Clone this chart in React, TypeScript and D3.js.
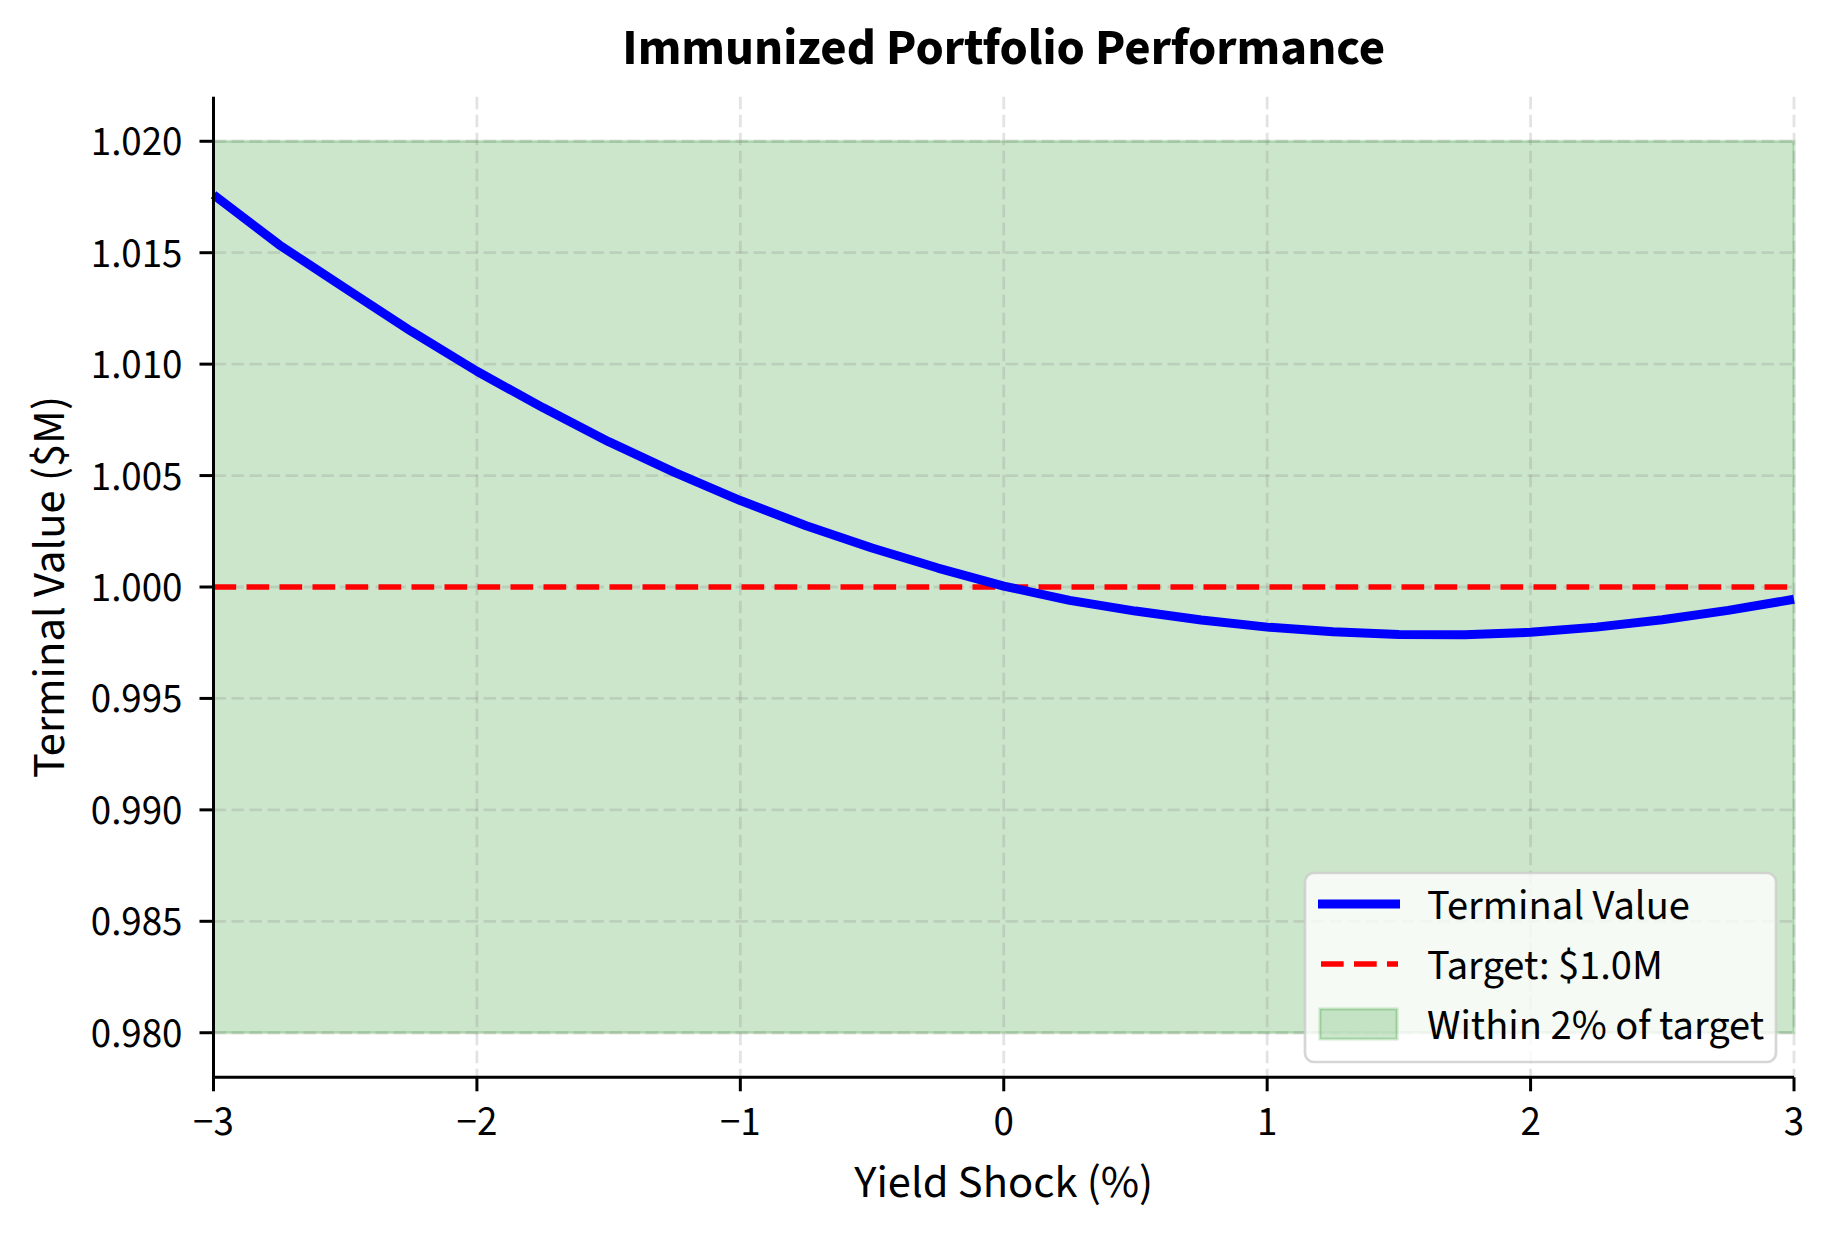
import { useMemo } from 'react'
import * as d3 from 'd3'

// yield shocks in percent at 0.25 steps
const shocks = [
  -3, -2.75, -2.5, -2.25, -2, -1.75, -1.5, -1.25, -1, -0.75, -0.5, -0.25, 0,
  0.25, 0.5, 0.75, 1, 1.25, 1.5, 1.75, 2, 2.25, 2.5, 2.75, 3,
]
const terminalValues = [
  1.0176, 1.01535, 1.0134, 1.01148, 1.00968, 1.00805, 1.00652, 1.00514, 1.00388,
  1.00275, 1.00175, 1.00085, 1.00004, 0.9994, 0.99892, 0.99852, 0.9982,
  0.99799, 0.99787, 0.99786, 0.99797, 0.9982, 0.99853, 0.99895, 0.99945,
]
const target = 1.0
const band = [0.98, 1.02]
const xTicks = [-3, -2, -1, 0, 1, 2, 3]
const yTicks = [0.98, 0.985, 0.99, 0.995, 1.0, 1.005, 1.01, 1.015, 1.02]
const legendItems = ['Terminal Value', 'Target: $1.0M', 'Within 2% of target']

const W = 1834
const H = 1234
const M = { left: 213.5, right: 1794, top: 96.7, bottom: 1077.3 }
const FONT = "'Source Sans 3', 'Source Sans Pro', Lato, sans-serif"

export default function App() {
  const x = useMemo(() => d3.scaleLinear().domain([-3, 3]).range([M.left, M.right]), [])
  const y = useMemo(() => d3.scaleLinear().domain([0.978, 1.022]).range([M.bottom, M.top]), [])

  const linePath = d3
    .line<number>()
    .x((_, i) => x(shocks[i]))
    .y((d) => y(d))(terminalValues)

  const fmtY = d3.format('.3f')
  const fmtX = (v: number) => (v < 0 ? '\u2212' + Math.abs(v) : String(v))

  const lx = 1305
  const ly = 873
  const lw = 471
  const lh = 189
  const rowY = [904, 964, 1024]

  return (
    <svg
      width={W}
      height={H}
      style={{ position: 'absolute', left: 0, top: 0, background: '#fff' }}
      fontFamily={FONT}
    >
      <rect width={W} height={H} fill="#fff" />

      {/* tolerance band */}
      <rect
        x={x(-3)}
        y={y(band[1])}
        width={x(3) - x(-3)}
        height={y(band[0]) - y(band[1])}
        fill="green"
        fillOpacity={0.2}
        stroke="green"
        strokeOpacity={0.2}
        strokeWidth={3}
      />

      {/* grid */}
      <g stroke="#808080" strokeOpacity={0.22} strokeWidth={2.8} strokeDasharray="12.5 5.5">
        {xTicks.map((t) => (
          <line key={'gx' + t} x1={x(t)} x2={x(t)} y1={M.top} y2={M.bottom} />
        ))}
        {yTicks.map((t) => (
          <line key={'gy' + t} x1={M.left} x2={M.right} y1={y(t)} y2={y(t)} />
        ))}
      </g>

      {/* target line */}
      <line
        x1={M.left}
        x2={M.right}
        y1={y(target)}
        y2={y(target)}
        stroke="#ff0000"
        strokeWidth={5.5}
        strokeDasharray="22.7 10.3"
      />

      {/* terminal value curve */}
      <path d={linePath ?? ''} fill="none" stroke="#0000ff" strokeWidth={9} strokeLinejoin="round" />

      {/* spines */}
      <line x1={M.left} x2={M.left} y1={M.top} y2={M.bottom + 1.5} stroke="#000" strokeWidth={3} />
      <line x1={M.left - 1.5} x2={M.right} y1={M.bottom} y2={M.bottom} stroke="#000" strokeWidth={3} />

      {/* y ticks */}
      {yTicks.map((t) => (
        <g key={'ty' + t}>
          <line x1={M.left - 14} x2={M.left} y1={y(t)} y2={y(t)} stroke="#000" strokeWidth={3} />
          <text x={M.left - 31} y={y(t) + 14} textAnchor="end" fontSize={41} fill="#000">
            {fmtY(t)}
          </text>
        </g>
      ))}

      {/* x ticks */}
      {xTicks.map((t) => (
        <g key={'tx' + t}>
          <line x1={x(t)} x2={x(t)} y1={M.bottom} y2={M.bottom + 14} stroke="#000" strokeWidth={3} />
          <text x={x(t)} y={1135} textAnchor="middle" fontSize={41} fill="#000">
            {fmtX(t)}
          </text>
        </g>
      ))}

      {/* labels */}
      <text x={(M.left + M.right) / 2} y={1197} textAnchor="middle" fontSize={46.5} fill="#000">
        Yield Shock (%)
      </text>
      <text
        transform={`translate(64,${(M.top + M.bottom) / 2}) rotate(-90)`}
        textAnchor="middle"
        fontSize={46.5}
        fill="#000"
      >
        Terminal Value ($M)
      </text>
      <text x={(M.left + M.right) / 2} y={64} textAnchor="middle" fontSize={51} fontWeight="bold" fill="#000">
        Immunized Portfolio Performance
      </text>

      {/* legend */}
      <g>
        <rect
          x={lx}
          y={ly}
          width={lw}
          height={lh}
          rx={9}
          fill="#fff"
          fillOpacity={0.8}
          stroke="#cccccc"
          strokeOpacity={0.8}
          strokeWidth={2.7}
        />
        <line x1={1318} x2={1400} y1={rowY[0]} y2={rowY[0]} stroke="#0000ff" strokeWidth={9} />
        <line
          x1={1321}
          x2={1398}
          y1={rowY[1]}
          y2={rowY[1]}
          stroke="#ff0000"
          strokeWidth={5.5}
          strokeDasharray="22.7 10.3"
        />
        <rect
          x={1320}
          y={rowY[2] - 15}
          width={77}
          height={30}
          fill="green"
          fillOpacity={0.2}
          stroke="green"
          strokeOpacity={0.2}
          strokeWidth={3}
        />
        {legendItems.map((s, i) => (
          <text key={s} x={1427} y={rowY[i] + 15} fontSize={42.5} fill="#000">
            {s}
          </text>
        ))}
      </g>
    </svg>
  )
}
